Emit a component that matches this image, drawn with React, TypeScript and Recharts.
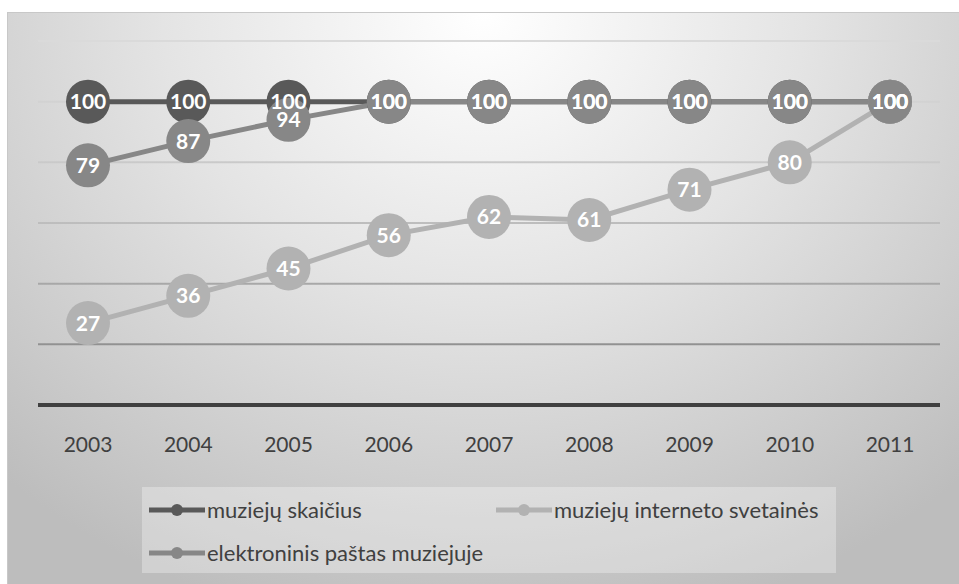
import React from 'react';
import { LineChart, Line, XAxis, YAxis, CartesianGrid, LabelList } from 'recharts';

const years = ['2003', '2004', '2005', '2006', '2007', '2008', '2009', '2010', '2011'];
const muziejuSkaicius = [100, 100, 100, 100, 100, 100, 100, 100, 100];
const svetaines = [27, 36, 45, 56, 62, 61, 71, 80, 100];
const elPastas = [79, 87, 94, 100, 100, 100, 100, 100, 100];
const yTicks = [20, 40, 60, 80, 100, 120];

const data = years.map((year, i) => ({
  year,
  skaicius: muziejuSkaicius[i],
  svetaines: svetaines[i],
  pastas: elPastas[i],
}));

// draw order: dark first, light next, medium last so it sits on top
const series = [
  { key: 'skaicius', name: 'muziejų skaičius', color: '#595959' },
  { key: 'svetaines', name: 'muziejų interneto svetainės', color: '#b2b2b2' },
  { key: 'pastas', name: 'elektroninis paštas muziejuje', color: '#878787' },
];

const FONT = 'Lato, "Open Sans", sans-serif';

const LegendIcon = ({ color }: { color: string }) => (
  <svg width={56} height={14} style={{ marginRight: 2 }}>
    <line x1={0} y1={7} x2={56} y2={7} stroke={color} strokeWidth={5} />
    <circle cx={28} cy={7} r={6} fill={color} />
  </svg>
);

const legendItem = (s: { name: string; color: string }, left: number, top: number) => (
  <div
    key={s.name}
    style={{ position: 'absolute', left, top, display: 'flex', alignItems: 'center', whiteSpace: 'nowrap' }}
  >
    <LegendIcon color={s.color} />
    <span style={{ fontSize: 22, color: '#404040' }}>{s.name}</span>
  </div>
);

export default function App() {
  return (
    <div
      style={{
        position: 'absolute',
        left: 7,
        top: 12,
        width: 952,
        height: 572,
        fontFamily: FONT,
        background: 'radial-gradient(ellipse 75% 110% at 50% 0%, #ffffff 0%, #e4e4e4 45%, #cfcfcf 75%, #bdbdbd 100%)',
        borderTop: '1px solid #c8c8c8',
        borderLeft: '1px solid #c8c8c8',
        boxSizing: 'border-box',
      }}
    >
      <LineChart width={952} height={572} data={data} margin={{ top: 28, right: 20, bottom: 120, left: 30 }}>
        <defs>
          <linearGradient id="gridGrad" gradientUnits="userSpaceOnUse" x1={0} y1={28} x2={0} y2={392}>
            <stop offset="0%" stopColor="#dadada" />
            <stop offset="45%" stopColor="#c4c4c4" />
            <stop offset="100%" stopColor="#7c7c7c" />
          </linearGradient>
        </defs>
        <CartesianGrid vertical={false} horizontalValues={yTicks} stroke="url(#gridGrad)" strokeWidth={2} />
        <YAxis hide domain={[0, 120]} ticks={[0, ...yTicks]} />
        <XAxis
          dataKey="year"
          height={60}
          padding={{ left: 50, right: 50 }}
          axisLine={{ stroke: '#404040', strokeWidth: 4 }}
          tickLine={false}
          tick={{ fill: '#404040', fontSize: 21, fontFamily: FONT }}
          tickMargin={26}
        />
        {series.map((s) => (
          <Line
            key={s.key}
            dataKey={s.key}
            name={s.name}
            stroke={s.color}
            strokeWidth={5}
            dot={{ r: 22, fill: s.color, stroke: 'none' }}
            activeDot={false}
            isAnimationActive={false}
          >
            <LabelList
              dataKey={s.key}
              position="center"
              fill="#ffffff"
              fontSize={21}
              fontWeight="bold"
              fontFamily={FONT}
            />
          </Line>
        ))}
      </LineChart>
      <div
        style={{
          position: 'absolute',
          left: 134,
          top: 474,
          width: 694,
          height: 86,
          background: 'rgba(255,255,255,0.3)',
        }}
      >
        {legendItem(series[0], 7, 9)}
        {legendItem(series[1], 354, 9)}
        {legendItem(series[2], 7, 52)}
      </div>
    </div>
  );
}
